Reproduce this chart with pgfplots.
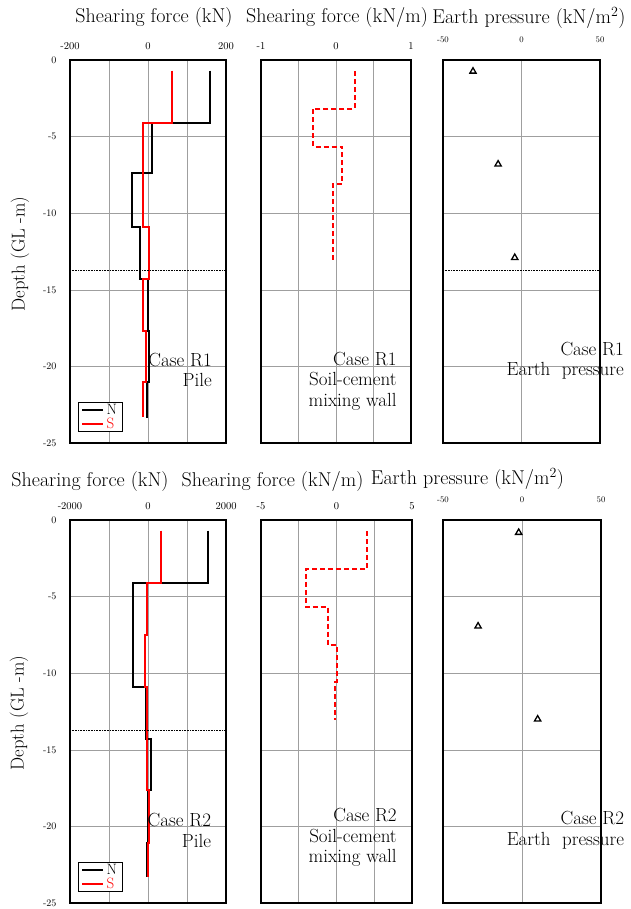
\documentclass[border=0pt]{standalone}
\usepackage{pgfplots}
\pgfplotsset{compat=1.18}
\begin{document}
\begin{tikzpicture}[x=1pt,y=1pt]
\useasboundingbox (0,0) rectangle (630,-909);
\tikzset{note/.style={anchor=north east, align=right, inner sep=0pt,
    font=\fontsize{19}{20.5}\selectfont},
  ttl/.style={font=\fontsize{20}{21}\selectfont},
  ttle/.style={font=\fontsize{20}{21}\selectfont}}
\pgfplotsset{
  panel/.style={scale only axis, height=383pt, ymin=-25, ymax=0,
    ytick={-25,-20,-15,-10,-5,0}, yticklabels={},
    axis line style={line width=1.6pt, black},
    grid=major, major grid style={gray!75, line width=0.6pt},
    major tick length=0pt,
    xticklabel pos=upper,
    xticklabel style={font=\fontsize{10.5}{11}\selectfont, yshift=7pt},
    clip=false},
  lefty/.style={yticklabels={-25,-20,-15,-10,-5,0},
    yticklabel style={font=\fontsize{10}{11}\selectfont, xshift=-10pt}},
  pileN/.style={black, line width=2pt},
  pileS/.style={red, line width=2pt},
  wall/.style={red, line width=2pt, dash pattern=on 5pt off 3pt},
  ep/.style={only marks, mark=triangle, mark size=3.6pt, black, mark options={line width=1.3pt}},
  gl/.style={black, densely dotted, line width=0.6pt, forget plot},
  legstyle/.style={legend style={at={(0.05,0.03)}, anchor=south west, draw=black, line width=0.6pt,
    font=\fontsize{15}{15}\selectfont, inner xsep=3pt, inner ysep=1.5pt, row sep=2pt,
    nodes={inner xsep=2.5pt, inner ysep=0pt}, cells={anchor=west}},
    legend image code/.code={\draw[##1] (0pt,0pt) -- (21pt,0pt);}}
}
% titles
\node[ttl] at (154,-18) {Shearing force (kN)};
\node[ttl] at (337,-18) {Shearing force (kN/m)};
\node[ttle] at (529,-18) {Earth pressure (kN/m\textsuperscript{2})};
\node[ttl] at (90,-482) {Shearing force (kN)};
\node[ttl] at (272.5,-482) {Shearing force (kN/m)};
\node[ttle] at (467.5,-479) {Earth pressure (kN/m\textsuperscript{2})};
\node[rotate=90, font=\fontsize{18.6}{19}\selectfont] at (20,-254) {Depth (GL -m)};
\node[rotate=90, font=\fontsize{18.6}{19}\selectfont] at (19,-713) {Depth (GL -m)};

% ---------- Case R1 ----------
\begin{axis}[panel, lefty, legstyle, at={(70pt,-443pt)}, anchor=south west, width=156pt,
  xmin=-200, xmax=200, xtick={-200,-100,0,100,200}, xticklabels={-200,,0,,200}]
\addplot[pileN] coordinates {(159,-0.7) (159,-4.1) (10,-4.1) (10,-7.4) (-40,-7.4) (-40,-10.9) (-20,-10.9) (-20,-14.3) (0,-14.3) (0,-17.7) (2,-17.7) (2,-21.0) (-2,-21.0) (-2,-23.4)};
\addlegendentry{N}
\addplot[pileS] coordinates {(62,-0.7) (62,-4.1) (-12,-4.1) (-12,-10.9) (2,-10.9) (2,-14.3) (-12,-14.3) (-12,-17.7) (-5,-17.7) (-5,-21.0) (-14,-21.0) (-14,-23.3)};
\addlegendentry{\textcolor{red}{S}}
\addplot[gl] coordinates {(-200,-13.7) (200,-13.7)};
\node[note] at (rel axis cs:0.91,0.235) {Case R1\\Pile};
\end{axis}

\begin{axis}[panel, at={(261pt,-443pt)}, anchor=south west, width=150pt,
  xmin=-1, xmax=1, xtick={-1,-0.5,0,0.5,1}, xticklabels={-1,,0,,1}]
\addplot[wall] coordinates {(0.25,-0.75) (0.25,-3.2) (-0.31,-3.2) (-0.31,-5.65) (0.08,-5.65) (0.08,-8.1) (-0.04,-8.1) (-0.04,-13.05)};
\node[note] at (rel axis cs:0.905,0.238) {Case R1\\Soil-cement\\mixing wall};
\end{axis}

\begin{axis}[panel, at={(443pt,-443pt)}, anchor=south west, width=157pt,
  xmin=-50, xmax=50, xtick={-50,0,50}, xticklabels={-50,0,50},
  xticklabel style={font=\fontsize{8.5}{9}\selectfont, yshift=7pt}]
\addplot[ep] coordinates {(-30.9,-0.74) (-14.9,-6.8) (-4.3,-12.9)};
\addplot[gl] coordinates {(-50,-13.7) (50,-13.7)};
\node[note] at (rel axis cs:1.153,0.264) {Case R1\\Earth\ \ pressure};
\end{axis}

% ---------- Case R2 ----------
\begin{axis}[panel, lefty, legstyle, at={(70pt,-903pt)}, anchor=south west, width=156pt,
  xmin=-2000, xmax=2000, xtick={-2000,-1000,0,1000,2000}, xticklabels={-2000,,0,,2000}]
\addplot[pileN] coordinates {(1530,-0.7) (1530,-4.1) (-376,-4.1) (-376,-7.5) (-390,-7.5) (-390,-10.9) (-51,-10.9) (-51,-14.3) (68,-14.3) (68,-17.6) (0,-17.6) (0,-21.1) (-30,-21.1) (-30,-23.3)};
\addlegendentry{N}
\addplot[pileS] coordinates {(342,-0.7) (342,-4.1) (-34,-4.1) (-34,-7.5) (-85,-7.5) (-85,-10.9) (-34,-10.9) (-34,-14.3) (-17,-14.3) (-17,-17.6) (17,-17.6) (17,-21.1) (0,-21.1) (0,-23.3)};
\addlegendentry{\textcolor{red}{S}}
\addplot[gl] coordinates {(-2000,-13.7) (2000,-13.7)};
\node[note] at (rel axis cs:0.905,0.234) {Case R2\\Pile};
\end{axis}

\begin{axis}[panel, at={(261pt,-903pt)}, anchor=south west, width=151pt,
  xmin=-5, xmax=5, xtick={-5,-2.5,0,2.5,5}, xticklabels={-5,,0,,5}]
\addplot[wall] coordinates {(2.04,-0.75) (2.04,-3.2) (-2.04,-3.2) (-2.04,-5.67) (-0.56,-5.67) (-0.56,-8.14) (0,-8.14) (0,-10.6) (-0.08,-10.6) (-0.08,-13.03)};
\node[note] at (rel axis cs:0.9,0.247) {Case R2\\Soil-cement\\mixing wall};
\end{axis}

\begin{axis}[panel, at={(443pt,-903pt)}, anchor=south west, width=158pt,
  xmin=-50, xmax=50, xtick={-50,0,50}, xticklabels={-50,0,50},
  xticklabel style={font=\fontsize{8.5}{9}\selectfont, yshift=7pt}]
\addplot[ep] coordinates {(-2.1,-0.82) (-27.8,-6.93) (9.9,-13.0)};
\node[note] at (rel axis cs:1.147,0.24) {Case R2\\Earth\ \ pressure};
\end{axis}
\end{tikzpicture}
\end{document}
